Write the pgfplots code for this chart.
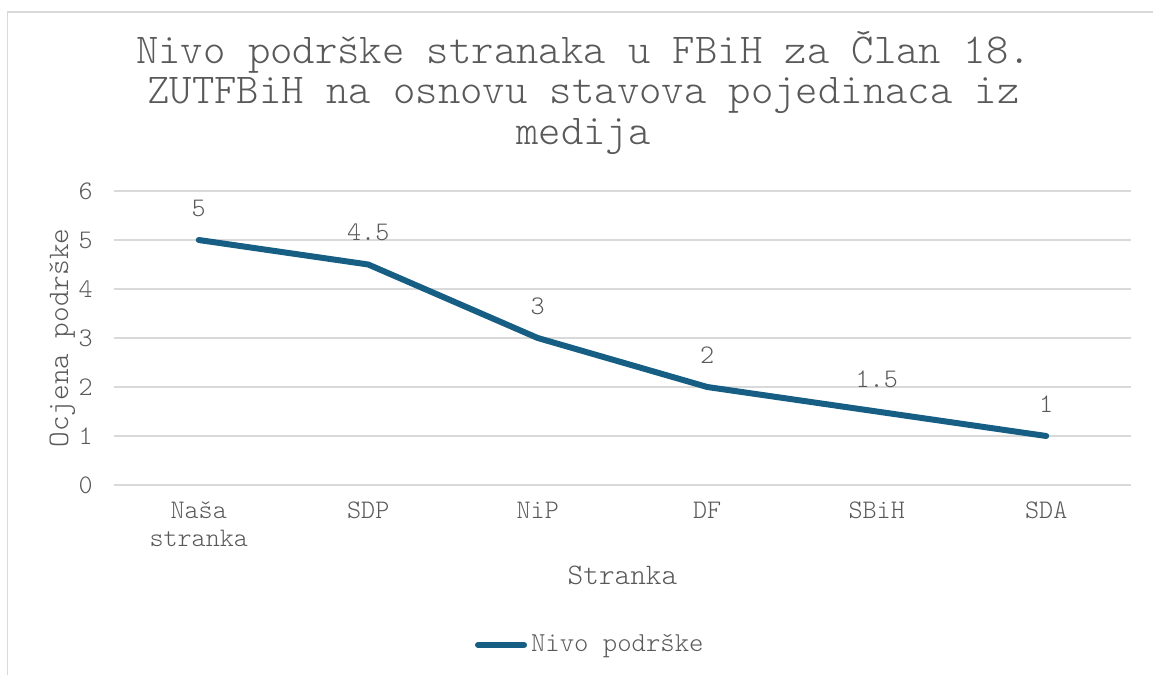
\documentclass[border=0pt]{standalone}
\usepackage{fontspec}
\setmainfont{lmmonolt10-regular.otf}
\usepackage{pgfplots}
\pgfplotsset{compat=1.18}
\definecolor{linec}{RGB}{22,94,131}
\definecolor{txt}{RGB}{89,89,89}
\definecolor{gridc}{RGB}{217,217,217}
\begin{document}
\begin{tikzpicture}
\useasboundingbox (0,0) rectangle (576.5pt,337.5pt);
\draw[gridc, line width=0.75pt] (3.75pt,0) -- (3.75pt,331.5pt) -- (576.5pt,331.5pt);
\begin{scope}[every node/.style={text=txt, font=\fontsize{21.3pt}{24pt}\selectfont, inner sep=0pt, anchor=base}]
\node at (291.75pt,305.5pt) {Nivo podrške stranaka u FBiH za Član 18.};
\node at (291.75pt,285.5pt) {ZUTFBiH na osnovu stavova pojedinaca iz};
\node at (291.75pt,265pt) {medija};
\end{scope}
\begin{axis}[
  at={(57pt,95pt)}, anchor=south west,
  scale only axis, width=508.5pt, height=147pt,
  xmin=-0.5, xmax=5.5, ymin=0, ymax=6,
  xtick={0,...,5},
  xticklabels={{\strut Naša\\stranka},{\strut SDP},{\strut NiP},{\strut DF},{\strut SBiH},{\strut SDA}},
  ytick={0,...,6},
  ymajorgrids, grid style={gridc, line width=0.75pt},
  axis line style={draw=none}, major tick length=0pt,
  /pgf/number format/assume math mode=true,
  tick label style={font=\fontsize{13.4pt}{14pt}\selectfont, text=txt},
  xticklabel style={align=center, anchor=north, inner sep=0pt, yshift=-6.7pt},
  yticklabel style={anchor=east, inner sep=0pt, xshift=-10.5pt},
  label style={font=\fontsize{14.9pt}{16pt}\selectfont, text=txt},
  xlabel={Stranka},
  xlabel style={at={(axis description cs:0.5,-0.337)}, anchor=base, inner sep=0pt},
  ylabel={Ocjena podrške},
  ylabel style={at={(axis description cs:-0.045,0.5)}, anchor=base, inner sep=0pt},
  legend style={draw=none, fill=none, inner sep=0pt, outer sep=0pt,
    at={(axis description cs:0.355,-0.544)}, anchor=west,
    font=\fontsize{13.7pt}{15pt}\selectfont, text=txt,
    /tikz/every even column/.style={column sep=0pt}},
  legend cell align=left,
  legend image code/.code={\draw[line width=3pt, line cap=round] (1.5pt,0pt) -- (24.5pt,0pt);},
]
\addplot[linec, line width=3pt, line cap=round, line join=round, mark=none,
  nodes near coords, point meta=explicit symbolic,
  nodes near coords style={anchor=center, yshift=16pt, text=txt, inner sep=0pt,
    font=\fontsize{13.4pt}{14pt}\selectfont}]
  coordinates {(0,5)[5] (1,4.5)[4.5] (2,3)[3] (3,2)[2] (4,1.5)[1.5] (5,1)[1]};
\addlegendentry{Nivo podrške}
\end{axis}
\end{tikzpicture}
\end{document}
